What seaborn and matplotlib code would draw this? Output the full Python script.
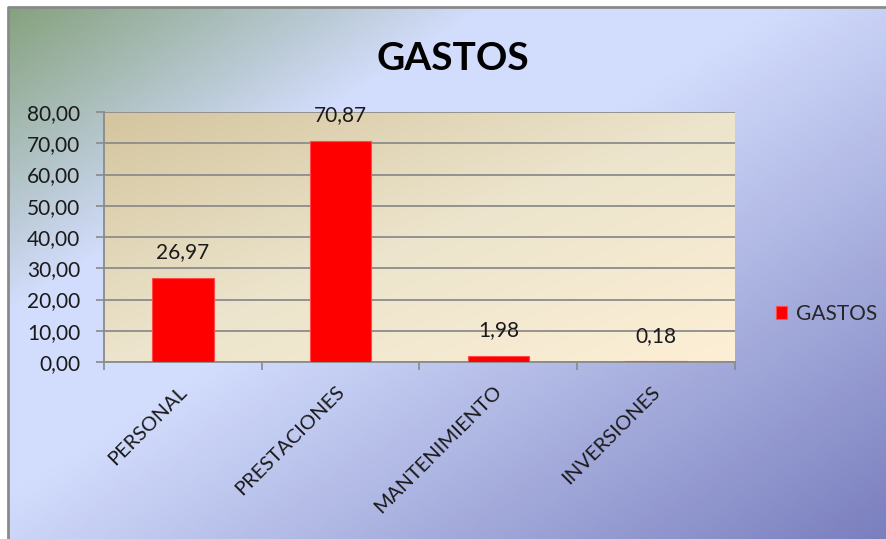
import numpy as np
import pandas as pd
import matplotlib
matplotlib.use("Agg")
import matplotlib.pyplot as plt
from matplotlib.colors import LinearSegmentedColormap
from matplotlib.transforms import ScaledTranslation
import seaborn as sns

categories = ["PERSONAL", "PRESTACIONES", "MANTENIMIENTO", "INVERSIONES"]
values = [26.97, 70.87, 1.98, 0.18]
series_name = "GASTOS"
y_ticks = [0, 10, 20, 30, 40, 50, 60, 70, 80]

sns.set_theme(style="white")
plt.rcParams["font.family"] = ["Lato", "DejaVu Sans"]

W, H = 887, 539
fig = plt.figure(figsize=(W / 100, H / 100), dpi=100)
fig.patch.set_facecolor("white")

# background axes in pixel coordinates
bg = fig.add_axes([0, 0, 1, 1], zorder=-10)
bg.set_xlim(0, W)
bg.set_ylim(H, 0)
bg.axis("off")

# chart-area gradient (diagonal)
xx, yy = np.meshgrid(np.linspace(0, 1, 300), np.linspace(0, 1, 200))
t = (xx + yy * 0.95) / 1.95
cmap_bg = LinearSegmentedColormap.from_list(
    "bg", [(0, "#86a27f"), (0.28, "#d3ddfd"), (0.45, "#d2dcfc"), (1.0, "#7a7fbe")])
bg.imshow(t, cmap=cmap_bg, extent=(8, W, H, 7), aspect="auto", origin="upper",
          interpolation="bilinear", zorder=0)
bg.plot([8, 8, W], [H, 7, 7], color="#8a8a8a", lw=2, zorder=2, solid_capstyle="butt")

# plot-area gradient
L, R, T, B = 104, 735, 112, 362
t2 = (xx + yy) / 2
cmap_pa = LinearSegmentedColormap.from_list("pa", ["#d4c59e", "#ece4cc", "#fdefd6"])
bg.imshow(t2, cmap=cmap_pa, extent=(L, R, B, T), aspect="auto", origin="upper",
          interpolation="bilinear", zorder=1)

ax = fig.add_axes([L / W, 1 - B / H, (R - L) / W, (B - T) / H])
ax.patch.set_alpha(0)

df = pd.DataFrame({"cat": categories, "val": values, "serie": series_name})
sns.barplot(data=df, x="cat", y="val", hue="serie", palette={series_name: "#ff0000"},
            width=0.39, saturation=1, ax=ax, legend=True, zorder=3,
            edgecolor="#ff4a4a", linewidth=0.8)

ax.set_xlim(-0.5, len(categories) - 0.5)
ax.set_ylim(0, 80)
ax.set_yticks(y_ticks)
ax.set_yticklabels([f"{v:.2f}".replace(".", ",") for v in y_ticks], fontsize=15, color="#1a1a1a")
ax.set_xticks(range(len(categories)))
ax.set_xticklabels(categories, rotation=45, ha="right", rotation_mode="default",
                   fontsize=14.5, color="#1a1a1a")
ax.tick_params(axis="x", length=0, pad=15)
offset = ScaledTranslation(7 / 100, 0, fig.dpi_scale_trans)
for lab in ax.get_xticklabels():
    lab.set_transform(lab.get_transform() + offset)
ax.tick_params(axis="y", length=6, width=1.2, color="#8a8a8a", pad=11, left=True)
# category boundary ticks on bottom
ax.set_xticks(np.arange(-0.5, len(categories), 1), minor=True)
ax.tick_params(axis="x", which="minor", length=6, width=1.2, color="#8a8a8a", bottom=True, direction="out")
ax.set_xlabel("")
ax.set_ylabel("")
ax.grid(axis="y", color="#8c8c8c", lw=1.3, zorder=1)
ax.set_axisbelow(True)
for s in ["top", "right"]:
    ax.spines[s].set_visible(False)
ax.spines["left"].set_color("#8a8a8a")
ax.spines["left"].set_linewidth(1.3)
ax.spines["bottom"].set_color("#8c8c8c")
ax.spines["bottom"].set_linewidth(1.3)

for c in ax.containers:
    ax.bar_label(c, labels=[f"{v:.2f}".replace(".", ",") for v in c.datavalues],
                 padding=11, fontsize=15, color="#1a1a1a")

handles, labels = ax.get_legend_handles_labels()
ax.get_legend().remove()
fig.legend(handles, labels, loc="center left", bbox_to_anchor=(776 / W, 1 - 314 / H),
           frameon=False, fontsize=15, handlelength=0.55, handleheight=0.55,
           handletextpad=0.4, borderpad=0, borderaxespad=0)

fig.text(453 / W, 1 - 70 / H, "GASTOS", ha="center", va="baseline",
         fontsize=28, fontweight="bold", color="black")

fig.savefig("out.png", dpi=100)
